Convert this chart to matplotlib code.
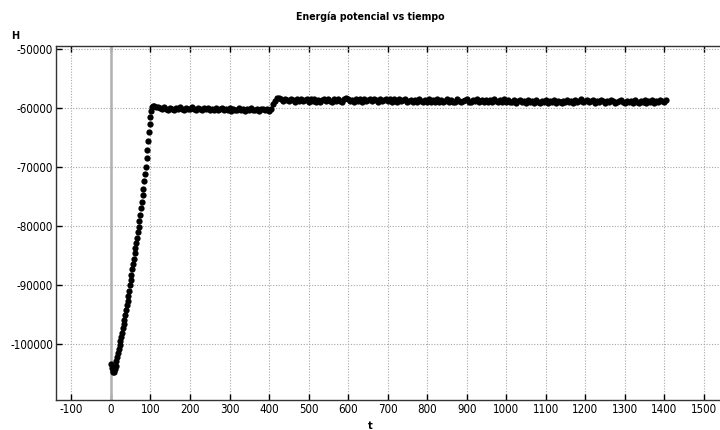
import numpy as np
import matplotlib
matplotlib.use("Agg")
import matplotlib.pyplot as plt

# Potential energy H over time t
# Initial descent + climb (t = 0..106, step 2)
t_ramp = list(range(0, 107, 2))
h_ramp = [-103300, -104000, -104500, -104700, -104650, -104200, -103600, -102900,
          -102200, -101500, -100800, -100200, -99500, -98800, -98000, -97300,
          -96600, -95800, -95000, -94200, -93400, -92600, -91800, -90900,
          -90000, -89100, -88200, -87300, -86400, -85500, -84600, -83700,
          -82800, -81900, -81000, -80100, -79100, -78000, -76900, -75800,
          -74700, -73600, -72400, -71200, -70000, -68500, -67000, -65500,
          -64100, -62700, -61500, -60400, -59800, -59600]

# First plateau (t = 110..405, step 5)
t_plat1 = list(range(110, 406, 5))
h_plat1 = [-59600, -59800, -59700, -60000, -60200, -59800, -60050, -60250, -59900, -60100,
           -60300, -59950, -60150, -59850, -60100, -60350, -59950, -60200, -60050, -59850,
           -60150, -60300, -59950, -60150, -60350, -60000, -60200, -59950, -60300, -60100,
           -60350, -60000, -60250, -60100, -59950, -60350, -60100, -60250, -60000, -60400,
           -60100, -60250, -60350, -60000, -60250, -60100, -60400, -60050, -60300, -60000,
           -60250, -60350, -60050, -60400, -60200, -60050, -60350, -60150, -60450, -60100]

# Second plateau (t = 410..1405, step 5)
t_plat2 = list(range(410, 1406, 5))
h_plat2 = [-59300, -58700, -58300, -58250, -58450, -58700, -58350, -58550, -58800, -58400,
           -58600, -58850, -58450, -58700, -58350, -58800, -58550, -58400, -58900, -58500,
           -58700, -58400, -58850, -58550, -58900, -58650, -58350, -58800, -58500, -58700,
           -58900, -58450, -58750, -58400, -58700, -58850, -58500, -58250, -58450, -58750,
           -58550, -58850, -58400, -58700, -58500, -58850, -58350, -58700, -58550, -58400,
           -58750, -58350, -58600, -58850, -58400, -58700, -58550, -58350, -58750, -58500,
           -58850, -58500, -58700, -58950, -58450, -58800, -58600, -58450, -58900, -58700,
           -58550, -58900, -58650, -59000, -58500, -58750, -58950, -58600, -58850, -58500,
           -58900, -58600, -59000, -58500, -58850, -58650, -59000, -58750, -58500, -58950,
           -58600, -58850, -59000, -58500, -58700, -58950, -58800, -58600, -58500, -58850,
           -59000, -58600, -58800, -58500, -58950, -58750, -58600, -59000, -58650, -58850,
           -58600, -59000, -58500, -58800, -58950, -58650, -58850, -58500, -59000, -58650,
           -58850, -59000, -58600, -59100, -58800, -58650, -59000, -58750, -59050, -58600,
           -58950, -58700, -59100, -58600, -58900, -59150, -58700, -58950, -58600, -59050,
           -58750, -58950, -58600, -59050, -58700, -58950, -59150, -58700, -58950, -58600,
           -58950, -58700, -59050, -58600, -58900, -58700, -58500, -58950, -58750, -58600,
           -58950, -58750, -58600, -59050, -58750, -58950, -58600, -58800, -59050, -58700,
           -58950, -58600, -58800, -59050, -58950, -58750, -58600, -58950, -59050, -58700,
           -58950, -58700, -59050, -58600, -58900, -59100, -58700, -58950, -58600, -59050,
           -58750, -58950, -58600, -59050, -58700, -58950, -58550, -58750, -58950, -58650]

x_ticks = list(range(-100, 1501, 100))
y_ticks = [-100000, -90000, -80000, -70000, -60000, -50000]

t_all = t_ramp + t_plat1 + t_plat2
h_all = h_ramp + h_plat1 + h_plat2

plt.rcParams['font.family'] = ['DejaVu Sans']
plt.rcParams['font.stretch'] = 'condensed'

fig = plt.figure(figsize=(7.2, 4.3), dpi=100)
ax = fig.add_axes([56 / 720, 1 - 400 / 430, 1 - 56 / 720, (400 - 46) / 430])

ax.set_xlim(-139, 1541)
ax.set_ylim(-109440, -49440)

ax.grid(True, color='#a8a8a8', linestyle=(0, (1, 1.5)), linewidth=0.8)
ax.set_axisbelow(True)
ax.axvline(0, color='#b0b0b0', linewidth=1.8, zorder=1)

ax.plot(t_all, h_all, 'o', color='black', markersize=4.5, markeredgewidth=0, zorder=3)

ax.set_xticks(x_ticks)
ax.set_yticks(y_ticks)
ax.set_xticklabels([str(v) for v in x_ticks])
ax.set_yticklabels([str(v) for v in y_ticks])
ax.tick_params(axis='both', direction='in', length=4, width=1, labelsize=8.3,
               colors='black', pad=2)
ax.tick_params(axis='x', top=True)

for side in ('left', 'bottom', 'top'):
    ax.spines[side].set_color('#333333')
    ax.spines[side].set_linewidth(1.0)
ax.spines['right'].set_visible(False)

fig.text(370 / 720, 1 - 17 / 430, 'Energía potencial vs tiempo', ha='center', va='center',
         fontsize=7.6, fontweight='bold')
fig.text(15 / 720, 1 - 36 / 430, 'H', ha='center', va='center', fontsize=7.8, fontweight='bold')
fig.text(370 / 720, 1 - 426 / 430, 't', ha='center', va='center', fontsize=7.8, fontweight='bold')

fig.savefig('out.png', dpi=100)
